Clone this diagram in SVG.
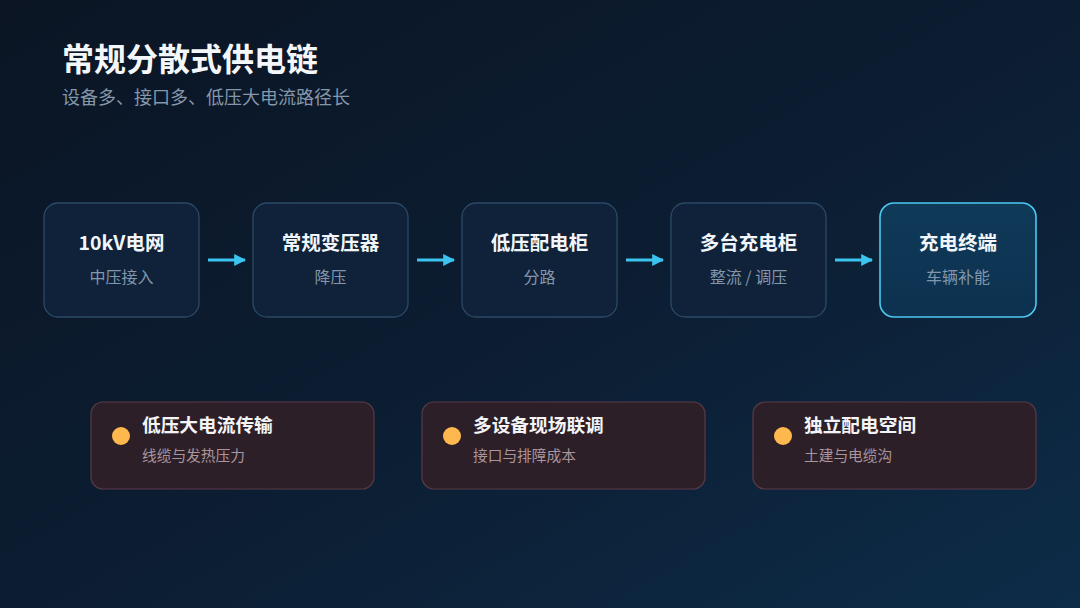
<svg xmlns="http://www.w3.org/2000/svg" width="1080" height="608" viewBox="0 0 1080 608">
<defs>
<linearGradient id="bg" x1="0" y1="0" x2="1" y2="1">
<stop offset="0" stop-color="#0b1524"/>
<stop offset="0.55" stop-color="#0c1e33"/>
<stop offset="1" stop-color="#0d2c48"/>
</linearGradient>
<linearGradient id="hl" x1="0" y1="0" x2="0" y2="1">
<stop offset="0" stop-color="#0f3a58"/>
<stop offset="1" stop-color="#0d3150"/>
</linearGradient>
<marker id="ah" viewBox="0 0 10 10" refX="9" refY="5" markerWidth="4" markerHeight="4" orient="auto" markerUnits="strokeWidth">
<path d="M0,0 L10,5 L0,10 z" fill="#3cc4f0"/>
</marker>
<style>
.t{font-family:"Noto Sans CJK SC","Noto Sans",sans-serif}
.box{fill:#0f2239;stroke:#2b4a66;stroke-width:1.3}
.boxh{fill:url(#hl);stroke:#4cc9f2;stroke-width:1.6}
.nt{font-size:19.5px;font-weight:700;fill:#f2f6fa;text-anchor:middle}
.ns{font-size:16px;fill:#8396ab;text-anchor:middle}
.card{fill:#2d1f28;stroke:#5a3a46;stroke-width:1.2}
.dot{fill:#ffb84d}
.ct{font-size:18.7px;font-weight:700;fill:#f4f4f6}
.cs{font-size:14.7px;fill:#ab959c}
.arr{stroke:#3cc4f0;stroke-width:3;fill:none;marker-end:url(#ah)}
</style>
</defs>
<rect width="1080" height="608" fill="url(#bg)"/>
<text class="t" x="62" y="71" font-size="32" font-weight="700" fill="#f4f7fa">常规分散式供电链</text>
<text class="t" x="62" y="104" font-size="18" fill="#8597ab">设备多、接口多、低压大电流路径长</text>

<g id="connectors">
<line class="arr" x1="208" y1="260" x2="245" y2="260"/>
<line class="arr" x1="417" y1="260" x2="454" y2="260"/>
<line class="arr" x1="626" y1="260" x2="663" y2="260"/>
<line class="arr" x1="835" y1="260" x2="872" y2="260"/>
</g>

<g id="n1">
<rect class="box" x="44" y="203" width="155" height="114" rx="14"/>
<text class="t nt" x="121.5" y="250">10kV电网</text>
<text class="t ns" x="121.5" y="283">中压接入</text>
</g>
<g id="n2">
<rect class="box" x="253" y="203" width="155" height="114" rx="14"/>
<text class="t nt" x="330.5" y="250">常规变压器</text>
<text class="t ns" x="330.5" y="283">降压</text>
</g>
<g id="n3">
<rect class="box" x="462" y="203" width="155" height="114" rx="14"/>
<text class="t nt" x="539.5" y="250">低压配电柜</text>
<text class="t ns" x="539.5" y="283">分路</text>
</g>
<g id="n4">
<rect class="box" x="671" y="203" width="155" height="114" rx="14"/>
<text class="t nt" x="748.5" y="250">多台充电柜</text>
<text class="t ns" x="748.5" y="283" xml:space="preserve">整流 / 调压</text>
</g>
<g id="n5">
<rect class="boxh" x="880" y="203" width="156" height="114" rx="14"/>
<text class="t nt" x="958" y="250">充电终端</text>
<text class="t ns" x="958" y="283">车辆补能</text>
</g>

<g id="c1">
<rect class="card" x="91" y="402" width="283" height="87" rx="12"/>
<circle class="dot" cx="121" cy="436" r="9"/>
<text class="t ct" x="142" y="432">低压大电流传输</text>
<text class="t cs" x="142" y="461">线缆与发热压力</text>
</g>
<g id="c2">
<rect class="card" x="422" y="402" width="283" height="87" rx="12"/>
<circle class="dot" cx="452" cy="436" r="9"/>
<text class="t ct" x="473" y="432">多设备现场联调</text>
<text class="t cs" x="473" y="461">接口与排障成本</text>
</g>
<g id="c3">
<rect class="card" x="753" y="402" width="283" height="87" rx="12"/>
<circle class="dot" cx="783" cy="436" r="9"/>
<text class="t ct" x="804" y="432">独立配电空间</text>
<text class="t cs" x="804" y="461">土建与电缆沟</text>
</g>
</svg>
